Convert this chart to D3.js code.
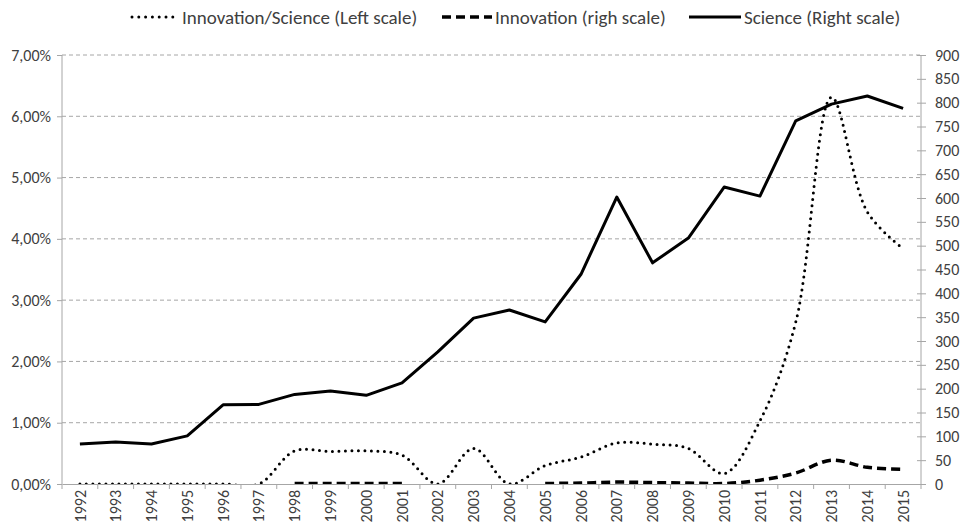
<!DOCTYPE html>
<html>
<head>
<meta charset="UTF-8">
<script src="https://d3js.org/d3.v7.min.js"></script>
<style>
  body { margin: 0; background: #fff; }
  svg text { font-family: Calibri, Carlito, "Open Sans", sans-serif; fill: #404040; }
</style>
</head>
<body>
<svg width="965" height="524"></svg>
<script>
const years = ["1992","1993","1994","1995","1996","1997","1998","1999","2000","2001","2002","2003",
               "2004","2005","2006","2007","2008","2009","2010","2011","2012","2013","2014","2015"];
// Innovation/Science, percent (left scale)
const ratio = [0,0,0,0,0,0,0.54,0.53,0.54,0.47,0,0.58,0,0.30,0.44,0.67,0.65,0.58,0.17,1.03,2.64,6.31,4.44,3.84];
// Innovation count (right scale), gaps where no data
const innovation = [null,null,null,null,null,null,1,1,1,1,null,null,null,1,2,4,3,2,1,8,23,50,35,31];
// Science count (right scale)
const science = [84,88,84,101,166,167,188,195,186,212,277,348,365,340,440,602,464,516,623,604,762,797,814,788];

const leftTicks = [0,1,2,3,4,5,6,7];
const rightTicks = d3.range(0, 901, 50);

const svg = d3.select("svg");
const m = { left: 62, right: 921, top: 55, bottom: 484 };

const x = d3.scaleBand().domain(years).range([m.left, m.right]);
const xc = d => x(d) + x.bandwidth() / 2;
const yL = d3.scaleLinear().domain([0, 7]).range([m.bottom, m.top]);
const yR = d3.scaleLinear().domain([0, 900]).range([m.bottom, m.top]);

// gridlines
svg.append("g").selectAll("line")
  .data(leftTicks.slice(1))
  .enter().append("line")
  .attr("x1", m.left).attr("x2", m.right)
  .attr("y1", d => yL(d)).attr("y2", d => yL(d))
  .attr("stroke", "#a6a6a6").attr("stroke-width", 1)
  .attr("stroke-dasharray", "4 3");

// left axis
const gl = svg.append("g").attr("transform", `translate(${m.left},0)`)
  .call(d3.axisLeft(yL).tickValues(leftTicks).tickSize(5).tickPadding(6)
    .tickFormat(d => d.toFixed(2).replace(".", ",") + "%"));
// right axis
const gr = svg.append("g").attr("transform", `translate(${m.right},0)`)
  .call(d3.axisRight(yR).tickValues(rightTicks).tickSize(5).tickPadding(9));
// bottom axis
const gb = svg.append("g").attr("transform", `translate(0,${m.bottom})`)
  .call(d3.axisBottom(x).tickSize(0).tickPadding(8));

[gl, gr, gb].forEach(g => {
  g.select(".domain").attr("stroke", "#a6a6a6");
  g.selectAll(".tick line").attr("stroke", "#a6a6a6");
  g.selectAll("text").attr("font-size", 16).attr("fill", "#404040")
    .style("font-family", 'Calibri, Carlito, "Open Sans", sans-serif');
});
gl.select(".domain").attr("d", `M0,${m.top}V${m.bottom}`);
gr.select(".domain").attr("d", `M0,${m.top}V${m.bottom}`);
gr.selectAll(".tick line").attr("x1", -4);

gb.selectAll(".tick text")
  .attr("transform", "rotate(-90)")
  .attr("text-anchor", "end")
  .attr("x", -6).attr("y", 0).attr("dy", "0.35em");

// category separators
svg.append("g").selectAll("line")
  .data(years.concat(["end"]))
  .enter().append("line")
  .attr("x1", (d, i) => m.left + i * x.bandwidth())
  .attr("x2", (d, i) => m.left + i * x.bandwidth())
  .attr("y1", m.bottom).attr("y2", m.bottom + 5)
  .attr("stroke", "#a6a6a6");

svg.append("clipPath").attr("id", "clip")
  .append("rect").attr("x", m.left).attr("y", m.top - 10)
  .attr("width", m.right - m.left).attr("height", m.bottom - m.top + 10);

const plot = svg.append("g").attr("clip-path", "url(#clip)");

const lineRatio = d3.line()
  .x((d, i) => xc(years[i])).y(d => yL(d))
  .curve(d3.curveCatmullRom.alpha(0.5));
const lineInno = d3.line()
  .defined(d => d !== null)
  .x((d, i) => xc(years[i])).y(d => yR(d))
  .curve(d3.curveCatmullRom.alpha(0.5));
const lineSci = d3.line()
  .x((d, i) => xc(years[i])).y(d => yR(d));

plot.append("path").datum(science)
  .attr("d", lineSci).attr("fill", "none")
  .attr("stroke", "#000").attr("stroke-width", 3)
  .attr("stroke-linejoin", "round");

plot.append("path").datum(innovation)
  .attr("d", lineInno).attr("fill", "none")
  .attr("stroke", "#000").attr("stroke-width", 3.5)
  .attr("stroke-dasharray", "9 5");

plot.append("path").datum(ratio)
  .attr("d", lineRatio).attr("fill", "none")
  .attr("stroke", "#000").attr("stroke-width", 3)
  .attr("stroke-linecap", "round")
  .attr("stroke-dasharray", "0 6.5");

// legend
const legend = [
  { label: "Innovation/Science (Left scale)", x1: 132, x2: 179, dash: "0 6.8", cap: "round", w: 3 },
  { label: "Innovation (righ scale)", x1: 442, x2: 492, dash: "9 5", cap: "butt", w: 3.5 },
  { label: "Science (Right scale)", x1: 689, x2: 741, dash: null, cap: "butt", w: 3 }
];
const lg = svg.append("g");
legend.forEach(d => {
  lg.append("line")
    .attr("x1", d.x1).attr("x2", d.x2).attr("y1", 17).attr("y2", 17)
    .attr("stroke", "#000").attr("stroke-width", d.w)
    .attr("stroke-linecap", d.cap)
    .attr("stroke-dasharray", d.dash);
  lg.append("text")
    .attr("x", d.x2 + 3).attr("y", 17).attr("dy", "0.35em")
    .attr("font-size", 19).attr("fill", "#000")
    .text(d.label);
});
</script>
</body>
</html>
